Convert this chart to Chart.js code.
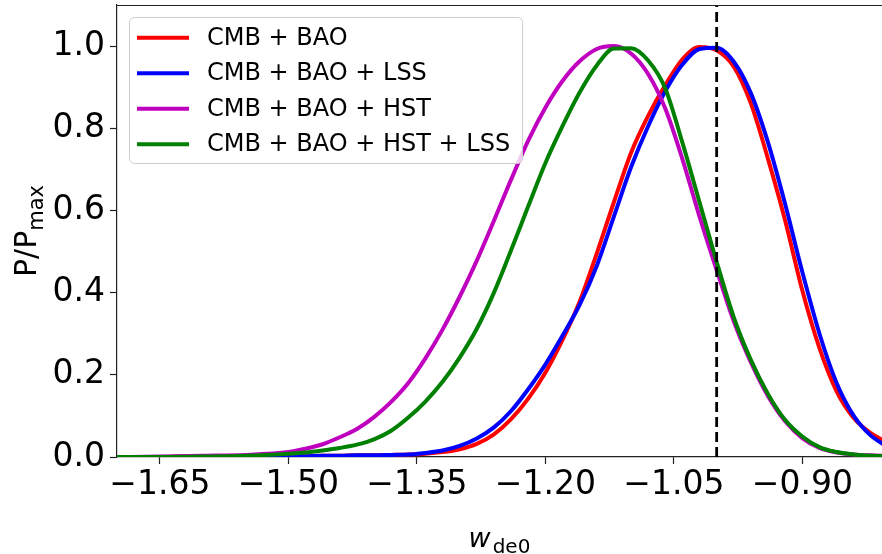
<!DOCTYPE html>
<html>
<head>
<meta charset="utf-8">
<title>w_de0 posteriors</title>
<script src="https://cdn.jsdelivr.net/npm/chart.js@4.4.0/dist/chart.umd.min.js"></script>
<style>
  html, body { margin: 0; padding: 0; background: #fff; }
  canvas { display: block; }
</style>
</head>
<body>
<canvas id="chart-wde0" width="882" height="554"></canvas>
<script>
'use strict';

// ── Data ─────────────────────────────────────────────────────────────────
var W_GRID = [-1.70, -1.65, -1.60, -1.55, -1.50, -1.48, -1.46, -1.44, -1.42, -1.40,
              -1.38, -1.36, -1.34, -1.32, -1.30, -1.28, -1.26, -1.24, -1.22, -1.20,
              -1.18, -1.16, -1.14, -1.12, -1.10, -1.08, -1.06, -1.04, -1.02, -1.00,
              -0.98, -0.96, -0.94, -0.92, -0.90, -0.88, -0.86, -0.84, -0.82, -0.80];

var P_CMB_BAO = [0.000, 0.000, 0.001, 0.001, 0.002, 0.002, 0.003, 0.003, 0.004, 0.004,
                 0.005, 0.006, 0.008, 0.012, 0.019, 0.032, 0.055, 0.092, 0.142, 0.205,
                 0.285, 0.378, 0.495, 0.620, 0.740, 0.830, 0.905, 0.968, 0.998, 0.990,
                 0.950, 0.860, 0.725, 0.575, 0.405, 0.265, 0.160, 0.095, 0.058, 0.034];

var P_CMB_BAO_LSS = [0.000, 0.000, 0.001, 0.001, 0.002, 0.002, 0.003, 0.003, 0.004, 0.004,
                     0.005, 0.006, 0.010, 0.016, 0.027, 0.045, 0.072, 0.112, 0.165, 0.225,
                     0.295, 0.370, 0.465, 0.585, 0.705, 0.805, 0.890, 0.955, 0.993, 0.996,
                     0.962, 0.885, 0.765, 0.615, 0.450, 0.300, 0.180, 0.100, 0.052, 0.024];

var P_CMB_BAO_HST = [0.000, 0.001, 0.003, 0.005, 0.012, 0.020, 0.031, 0.048, 0.068, 0.097,
                     0.134, 0.180, 0.240, 0.310, 0.390, 0.478, 0.575, 0.675, 0.770, 0.850,
                     0.915, 0.963, 0.993, 1.000, 0.982, 0.932, 0.848, 0.725, 0.585, 0.455,
                     0.330, 0.230, 0.148, 0.087, 0.046, 0.022, 0.011, 0.006, 0.004, 0.003];

var P_CMB_BAO_HST_LSS = [0.000, 0.000, 0.001, 0.003, 0.008, 0.011, 0.016, 0.022, 0.030, 0.043,
                         0.064, 0.096, 0.135, 0.183, 0.242, 0.312, 0.400, 0.503, 0.610, 0.715,
                         0.805, 0.887, 0.953, 0.994, 0.995, 0.965, 0.897, 0.765, 0.620, 0.475,
                         0.340, 0.236, 0.153, 0.090, 0.050, 0.024, 0.012, 0.006, 0.003, 0.002];

var SERIES_LABELS = ['CMB + BAO', 'CMB + BAO + LSS', 'CMB + BAO + HST', 'CMB + BAO + HST + LSS'];
var SERIES_COLORS = ['#ff0000', '#0000ff', '#bf00bf', '#008000'];

var X_TICKS = [-1.65, -1.50, -1.35, -1.20, -1.05, -0.90];
var Y_TICKS = [0.0, 0.2, 0.4, 0.6, 0.8, 1.0];
var W_LCDM = -1.0;

// ── Helpers ──────────────────────────────────────────────────────────────
var FONT = '"DejaVu Sans", "Liberation Sans", sans-serif';

function points(ys) {
    return W_GRID.map(function (w, i) { return { x: w, y: ys[i] }; });
}

function fmt(v, digits) {
    var s = Math.abs(v).toFixed(digits);
    return (v < -1e-9 ? '\u2212' : '') + s;
}

function curve(idx, ys, order) {
    return {
        label: SERIES_LABELS[idx],
        data: points(ys),
        borderColor: SERIES_COLORS[idx],
        borderWidth: 4,
        pointRadius: 0,
        cubicInterpolationMode: 'monotone',
        clip: 0,
        order: order,
    };
}

function noPad(axis) {
    axis.paddingTop = 0;
    axis.paddingBottom = 0;
    axis.paddingLeft = 0;
    axis.paddingRight = 0;
}

// ── Extras: top spine, legend box, axis titles with subscripts ──────────
var extras = {
    id: 'extras',
    afterDraw: function (chart) {
        var ctx = chart.ctx;
        var a = chart.chartArea;
        ctx.save();

        // top spine
        ctx.strokeStyle = '#222';
        ctx.lineWidth = 1.2;
        ctx.beginPath();
        ctx.moveTo(a.left, a.top + 0.5);
        ctx.lineTo(a.right, a.top + 0.5);
        ctx.stroke();

        // legend
        ctx.beginPath();
        ctx.roundRect(129.5, 17.5, 393, 146, 5);
        ctx.fillStyle = 'rgba(255,255,255,0.8)';
        ctx.fill();
        ctx.strokeStyle = '#cccccc';
        ctx.lineWidth = 1;
        ctx.stroke();

        ctx.font = '24px ' + FONT;
        ctx.textBaseline = 'middle';
        ctx.textAlign = 'left';
        SERIES_LABELS.forEach(function (lbl, i) {
            var y = 37.7 + i * 35.5;
            ctx.strokeStyle = SERIES_COLORS[i];
            ctx.lineWidth = 4;
            ctx.beginPath();
            ctx.moveTo(137, y);
            ctx.lineTo(189, y);
            ctx.stroke();
            ctx.fillStyle = '#000';
            ctx.fillText(lbl, 207, y + 1);
        });

        // x title: w_de0
        ctx.textBaseline = 'alphabetic';
        ctx.fillStyle = '#000';
        ctx.font = 'italic 27px ' + FONT;
        var wW = ctx.measureText('w').width;
        ctx.font = '20px ' + FONT;
        var subW = ctx.measureText('de0').width;
        var x0 = (a.left + a.right) / 2 - (wW + 2 + subW) / 2;
        ctx.font = 'italic 27px ' + FONT;
        ctx.fillText('w', x0, 547);
        ctx.font = '20px ' + FONT;
        ctx.fillText('de0', x0 + wW + 2, 553);

        // y title: P/P_max
        ctx.translate(36, (a.top + a.bottom) / 2);
        ctx.rotate(-Math.PI / 2);
        ctx.font = '30px ' + FONT;
        var pW = ctx.measureText('P/P').width;
        ctx.font = '21px ' + FONT;
        var mW = ctx.measureText('max').width;
        var y0 = -(pW + mW) / 2;
        ctx.font = '30px ' + FONT;
        ctx.fillText('P/P', y0, 0);
        ctx.font = '21px ' + FONT;
        ctx.fillText('max', y0 + pW, 7);

        ctx.restore();
    }
};

// ── Chart ────────────────────────────────────────────────────────────────
function initChart() {
    var datasets = [
        curve(0, P_CMB_BAO, 4),
        curve(1, P_CMB_BAO_LSS, 3),
        curve(2, P_CMB_BAO_HST, 2),
        curve(3, P_CMB_BAO_HST_LSS, 1),
        {
            label: 'LCDM',
            data: [{ x: W_LCDM, y: 0 }, { x: W_LCDM, y: 1.1 }],
            borderColor: '#000',
            borderWidth: 2.8,
            borderDash: [10, 5],
            pointRadius: 0,
            tension: 0,
            clip: 0,
            order: 0,
        }
    ];

    var tickFont = { family: FONT, size: 33 };
    var axisCommon = {
        type: 'linear',
        grid: { display: true, drawOnChartArea: false, drawTicks: true, tickLength: 7, tickColor: '#222', tickWidth: 1.2 },
        border: { display: true, color: '#222', width: 1.2 },
        title: { display: false },
    };

    new Chart(document.getElementById('chart-wde0'), {
        type: 'line',
        data: { datasets: datasets },
        options: {
            responsive: false,
            animation: false,
            events: [],
            layout: { padding: { left: 0, top: 5, right: 0, bottom: 0 } },
            plugins: { legend: { display: false }, tooltip: { enabled: false } },
            scales: {
                x: Object.assign({}, axisCommon, {
                    min: -1.70, max: -0.807,
                    afterBuildTicks: function (axis) { axis.ticks = X_TICKS.map(function (v) { return { value: v }; }); },
                    afterFit: function (axis) { axis.height = 97; noPad(axis); },
                    ticks: { color: '#000', font: tickFont, padding: 2, maxRotation: 0, autoSkip: false,
                             callback: function (v) { return fmt(v, 2); } },
                }),
                y: Object.assign({}, axisCommon, {
                    min: 0, max: 1.1,
                    afterBuildTicks: function (axis) { axis.ticks = Y_TICKS.map(function (v) { return { value: v }; }); },
                    afterFit: function (axis) { axis.width = 117; noPad(axis); },
                    ticks: { color: '#000', font: tickFont, padding: 5, autoSkip: false,
                             callback: function (v) { return fmt(v, 1); } },
                }),
            }
        },
        plugins: [extras]
    });
}

initChart();
</script>
</body>
</html>
